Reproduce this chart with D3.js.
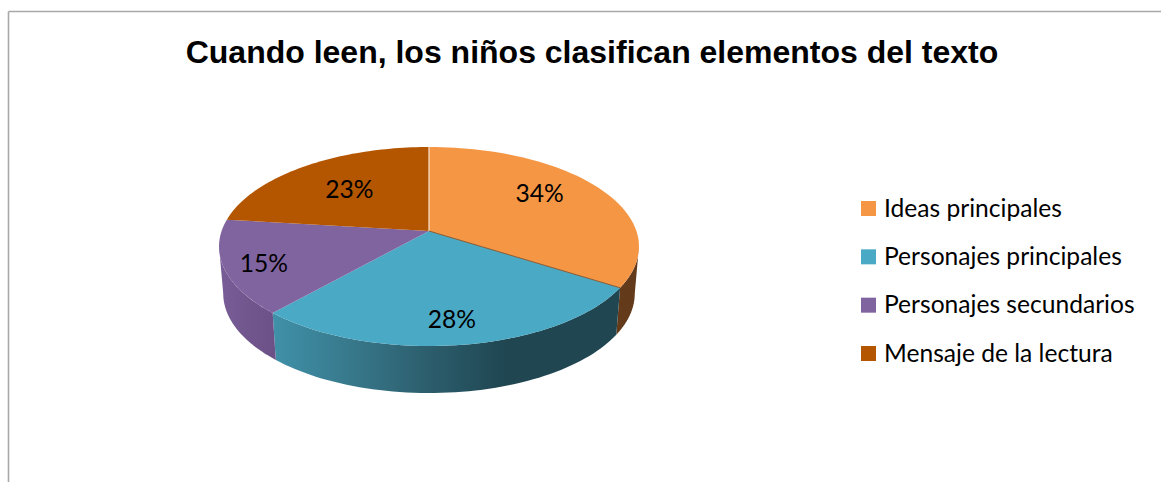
<!DOCTYPE html>
<html lang="es"><head><meta charset="utf-8">
<style>html,body{margin:0;padding:0;background:#fff}svg{display:block}</style>
<script src="https://cdn.jsdelivr.net/npm/d3@7/dist/d3.min.js"></script>
</head><body><div id="chart"></div>
<script>
const titleText = "Cuando leen, los niños clasifican elementos del texto";
const categories = ["Ideas principales","Personajes principales","Personajes secundarios","Mensaje de la lectura"];
const values = [34,27.6,15.3,23.1];
const topColors = ["#f59645","#4aa9c4","#8064a0","#b45500"];
const labelRadius = [0.70,0.80,0.82,0.62];
const labelTurn = [-7,1,-2,0];

const W=1161,H=482;
const apex={x:429,y:231}, Rx=207.4, Ry=97.1, k=-0.156, depth=47, bottomScale=0.98;
const svg=d3.select("#chart").append("svg").attr("width",W).attr("height",H);

// frame (open on the right and the bottom, as cropped in the reference)
const frame=svg.append("g").attr("stroke","#a9a9a9").attr("stroke-width",1.6);
frame.append("line").attr("x1",8.5).attr("x2",W).attr("y1",11.5).attr("y2",11.5);
frame.append("line").attr("x1",8.5).attr("x2",8.5).attr("y1",11.5).attr("y2",H);

svg.append("text").attr("x",592).attr("y",63).attr("text-anchor","middle")
  .attr("font-family","'Liberation Sans',Arial,sans-serif").attr("font-weight","bold")
  .attr("font-size",32).attr("fill","#000").text(titleText);

const slices=d3.pie().sort(null).value(d=>d)(values);

// projected circle: angle clockwise from top, r as a fraction of the radius
function proj(theta,r=1){
  const u=r*Math.sin(theta), v=-r*Math.cos(theta), den=1+k*v;
  return [apex.x+Rx*u/den, apex.y+Ry*v/den];
}
const lower=p=>[apex.x+(p[0]-apex.x)*bottomScale, p[1]+depth];
const line=d3.line();
const sample=(a,b)=>d3.range(0,61).map(i=>a+(b-a)*i/60);

// gradients for the walls
const defs=svg.append("defs");
function grad(id,stops){
  const g=defs.append("linearGradient").attr("id",id).attr("gradientUnits","userSpaceOnUse")
    .attr("x1",220).attr("x2",640).attr("y1",0).attr("y2",0);
  stops.forEach(s=>g.append("stop").attr("offset",s[0]).attr("stop-color",s[1]));
}
grad("wall0",[[0,"#633a1a"],[1,"#633a1a"]]);
grad("wall1",[[0.13,"#3f90a8"],[0.30,"#387a8d"],[0.50,"#2c5d6c"],[0.68,"#1f4651"],[1,"#1f4651"]]);
grad("wall2",[[0,"#775c96"],[0.13,"#6c5187"]]);
grad("wall3",[[0,"#6a3300"],[1,"#6a3300"]]);

// the wall is only visible between the two silhouette tangents
const visA=Math.acos(k), visB=2*Math.PI-visA;
svg.append("g").selectAll("path").data(slices).join("path")
  .attr("d",d=>{
    const a=Math.max(d.startAngle,visA), b=Math.min(d.endAngle,visB);
    if(b<=a) return null;
    const t=sample(a,b).map(x=>proj(x));
    return line(t.concat(t.map(lower).reverse()))+"Z";
  })
  .attr("fill",(d,i)=>`url(#wall${i})`);

// top faces
svg.append("g").selectAll("path").data(slices).join("path")
  .attr("d",d=>line([[apex.x,apex.y]].concat(sample(d.startAngle,d.endAngle).map(x=>proj(x))))+"Z")
  .attr("fill",(d,i)=>topColors[i]);

// thin edges between orange and its neighbours
const edges=svg.append("g").attr("fill","none");
edges.append("path").attr("d",line([[apex.x,apex.y],proj(slices[0].startAngle)]))
  .attr("stroke","#f6e3d3").attr("stroke-width",1.2);
edges.append("path").attr("d",line([[apex.x,apex.y],proj(slices[0].endAngle)]))
  .attr("stroke","#8a5a30").attr("stroke-width",1);

const bodyFont="Lato,'Open Sans',sans-serif";
// percentage labels
svg.append("g").selectAll("text").data(slices).join("text")
  .attr("transform",(d,i)=>{
    const th=(d.startAngle+d.endAngle)/2+labelTurn[i]*Math.PI/180;
    const p=proj(th,labelRadius[i]);
    return `translate(${p[0]},${p[1]})`;
  })
  .attr("dy","0.35em").attr("text-anchor","middle").attr("font-family",bodyFont)
  .attr("font-size",24.6).attr("fill","#000").text(d=>Math.round(d.value)+"%");

// legend
const rowY=d3.scalePoint().domain(categories).range([208.5,353.5]);
const leg=svg.append("g").selectAll("g").data(categories).join("g")
  .attr("transform",d=>`translate(861,${rowY(d)})`);
leg.append("rect").attr("x",0).attr("y",-7.5).attr("width",15).attr("height",15)
  .attr("fill",(d,i)=>topColors[i]);
leg.append("text").attr("x",23).attr("y",8.2).attr("font-family",bodyFont)
  .attr("font-size",24.6).attr("fill","#000").text(d=>d);
</script></body></html>
